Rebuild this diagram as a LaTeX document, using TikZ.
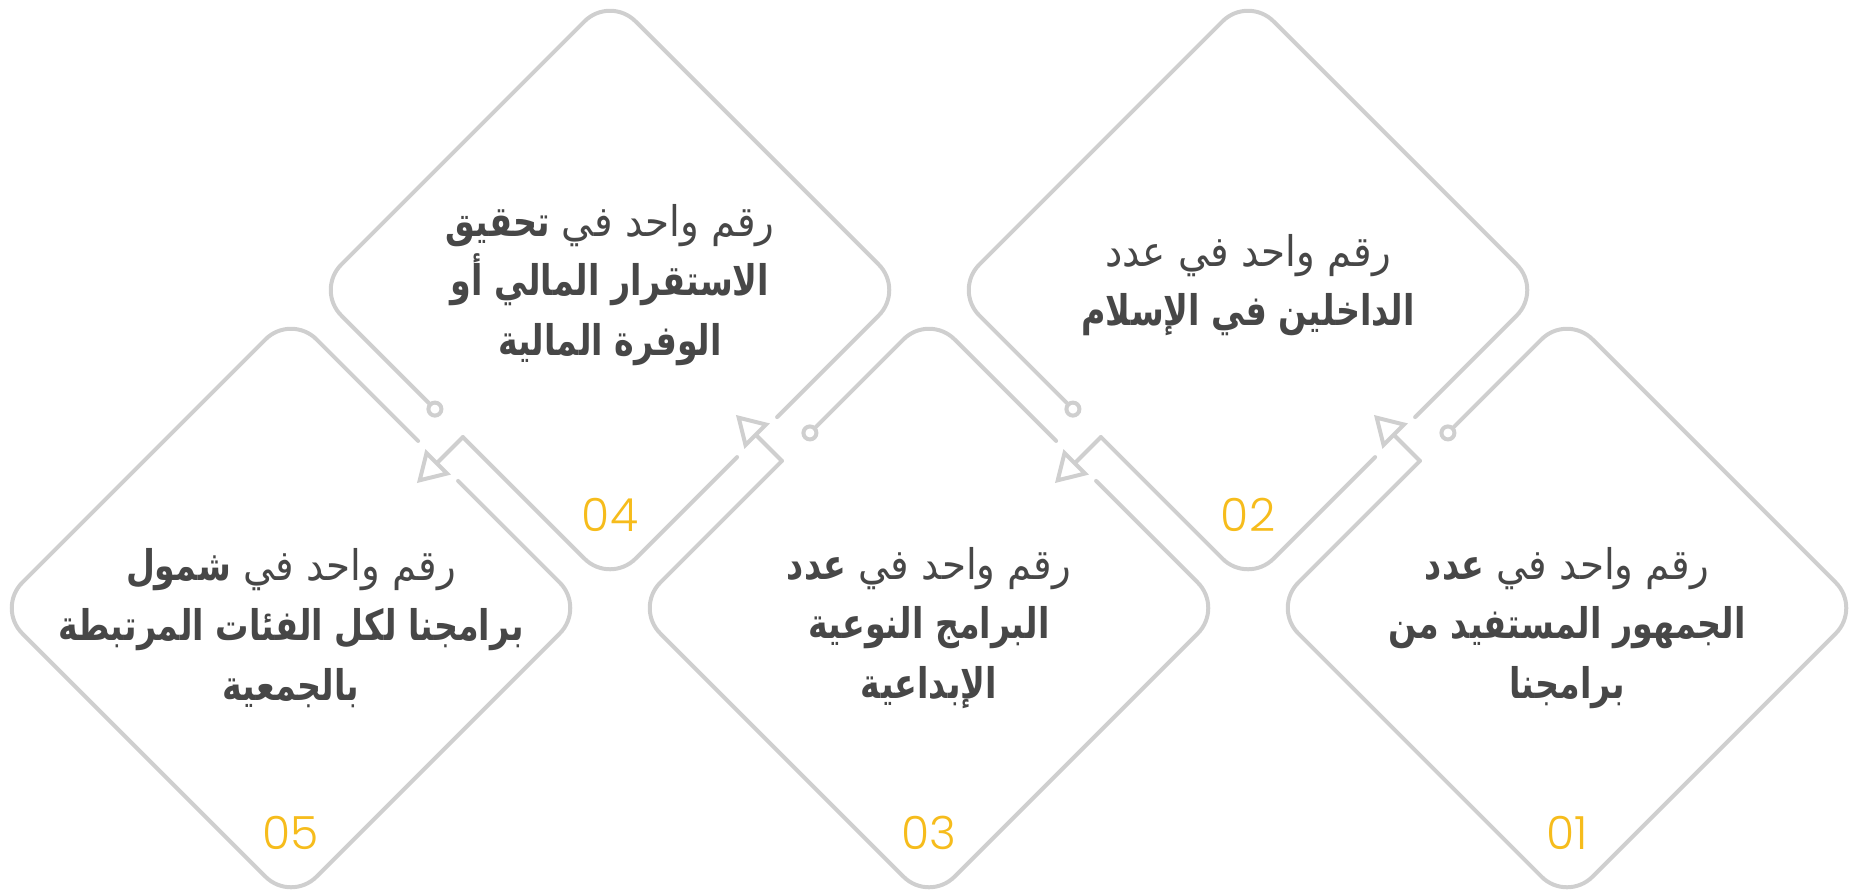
\documentclass[tikz,border=0pt]{standalone}
\usepackage{fontspec}
\usetikzlibrary{calc,positioning,shapes.geometric,arrows.meta}
\newfontfamily\arabicfont[Script=Arabic, UprightFeatures={FakeStretch=0.92}, BoldFeatures={FakeStretch=0.79}]{DejaVu Sans}
\IfFontExistsTF{Poppins Light}{\newfontfamily\numfont{Poppins Light}}{\newfontfamily\numfont{Poppins}}
\TeXXeTstate=1
\definecolor{rimgray}{HTML}{CFCFCF}
\definecolor{txtgray}{HTML}{474747}
\definecolor{numgold}{HTML}{F6BC1C}
\tikzset{
  box/.style={diamond, aspect=1, minimum size=5.88cm, inner sep=0pt, outer sep=0pt},
  rim/.style={draw=rimgray, line width=0.04cm, line cap=round, rounded corners=0.36cm},
  pin/.style={circle, draw=rimgray, fill=white, line width=0.04cm, minimum size=0.13cm, inner sep=0pt, outer sep=0pt},
  flow/.style={draw=rimgray, line width=0.04cm, line cap=round, -{Triangle[open, length=0.30cm, width=0.35cm]}},
  txt/.style={align=center, text=txtgray, font=\arabicfont\fontsize{12}{17}\selectfont},
  num/.style={text=numgold, font=\numfont\fontsize{13}{15}\selectfont},
}

\begin{document}
\begin{tikzpicture}[x=0.01cm, y=-0.01cm] %
		\useasboundingbox (0,0) rectangle (1849,890);
		% Boxes
		\node[box] (Jumhur) at (1567,608) {};
		\node[box] (Dakhilin) at (1248,290) {};
		\node[box] (Baramij) at (929,608) {};
		\node[box] (Istiqrar) at (610,290) {};
		\node[box] (Shumul) at (291,608) {};
		% Pins and arrow ends
		\node[pin] (JumhurPin) at ($(Jumhur.north west)+(28,-28)$) {};
		\node[pin] (DakhilinPin) at ($(Dakhilin.south west)+(-28,-28)$) {};
		\node[pin] (BaramijPin) at ($(Baramij.north west)+(28,-28)$) {};
		\node[pin] (IstiqrarPin) at ($(Istiqrar.south west)+(-28,-28)$) {};
		\coordinate (JumhurTip) at ($(Jumhur.north west)+(-46,-46)$);
		\coordinate (DakhilinTip) at ($(Dakhilin.south west)+(-46,46)$);
		\coordinate (BaramijTip) at ($(Baramij.north west)+(-46,-46)$);
		\coordinate (IstiqrarTip) at ($(Istiqrar.south west)+(-46,46)$);
		% 01
		\draw[rim] (JumhurPin) -- (Jumhur.north) -- (Jumhur.east) -- (Jumhur.south) -- (Jumhur.west) -- (Jumhur.north west);
		\draw[flow] (Jumhur.north west) -- (JumhurTip);
		% 02
		\draw[rim] ($(Dakhilin.south east)+(20,-20)$) -- (Dakhilin.east) -- (Dakhilin.north) -- (Dakhilin.west) -- (DakhilinPin);
		\draw[rim] ($(Dakhilin.south east)+(-20,20)$) -- (Dakhilin.south) -- (Dakhilin.south west);
		\draw[flow] (Dakhilin.south west) -- (DakhilinTip);
		% 03
		\draw[rim] (BaramijPin) -- (Baramij.north) -- ($(Baramij.north east)+(-20,-20)$);
		\draw[rim] ($(Baramij.north east)+(20,20)$) -- (Baramij.east) -- (Baramij.south) -- (Baramij.west) -- (Baramij.north west);
		\draw[flow] (Baramij.north west) -- (BaramijTip);
		% 04
		\draw[rim] ($(Istiqrar.south east)+(20,-20)$) -- (Istiqrar.east) -- (Istiqrar.north) -- (Istiqrar.west) -- (IstiqrarPin);
		\draw[rim] ($(Istiqrar.south east)+(-20,20)$) -- (Istiqrar.south) -- (Istiqrar.south west);
		\draw[flow] (Istiqrar.south west) -- (IstiqrarTip);
		% 05
		\draw[rim] ($(Shumul.north east)+(20,20)$) -- (Shumul.east) -- (Shumul.south) -- (Shumul.west) -- (Shumul.north) -- ($(Shumul.north east)+(-20,-20)$);
		% Texts
		\node[txt] (JumhurTxt) at ($(Jumhur)+(0,20)$) {\beginR رقم واحد في \textbf{عدد}\endR\\ \beginR\textbf{الجمهور المستفيد من}\endR\\ \beginR\textbf{برامجنا}\endR};
		\node[txt] (DakhilinTxt) at ($(Dakhilin)+(0,-5)$) {\beginR رقم واحد في عدد\endR\\ \beginR\textbf{الداخلين في الإسلام}\endR};
		\node[txt] (BaramijTxt) at ($(Baramij)+(0,20)$) {\beginR رقم واحد في \textbf{عدد}\endR\\ \beginR\textbf{البرامج النوعية}\endR\\ \beginR\textbf{الإبداعية}\endR};
		\node[txt] (IstiqrarTxt) at ($(Istiqrar)+(0,-5)$) {\beginR رقم واحد في \textbf{تحقيق}\endR\\ \beginR\textbf{الاستقرار المالي أو}\endR\\ \beginR\textbf{الوفرة المالية}\endR};
		\node[txt] (ShumulTxt) at ($(Shumul)+(0,20)$) {\beginR رقم واحد في \textbf{شمول}\endR\\ \beginR\textbf{برامجنا لكل الفئات المرتبطة}\endR\\ \beginR\textbf{بالجمعية}\endR};
		% Numbers
		\node[num] (Num01) at ($(Jumhur)+(0,225)$) {01};
		\node[num] (Num02) at ($(Dakhilin)+(0,225)$) {02};
		\node[num] (Num03) at ($(Baramij)+(0,225)$) {03};
		\node[num] (Num04) at ($(Istiqrar)+(0,225)$) {04};
		\node[num] (Num05) at ($(Shumul)+(0,225)$) {05};
	\end{tikzpicture}
\end{document}
